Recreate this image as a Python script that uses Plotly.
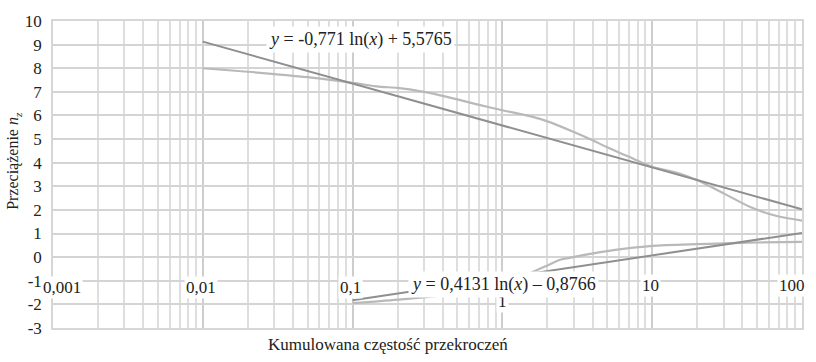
import numpy as np
import plotly.graph_objects as go

# Measured load-factor exceedance curve (upper branch)
upper_x = [0.01, 0.02, 0.05, 0.1, 0.15, 0.2, 0.3, 0.42, 0.7, 1.0, 1.5, 2.0,
           3.0, 4.0, 5.0, 7, 10, 15, 20, 30, 46, 70, 100]
upper_y = [8.0, 7.85, 7.62, 7.38, 7.22, 7.17, 7.0, 6.8, 6.45, 6.22, 5.98, 5.75,
           5.3, 4.95, 4.65, 4.25, 3.83, 3.55, 3.26, 2.7, 2.1, 1.72, 1.55]

# Measured load-factor exceedance curve (lower branch)
lower_x = [0.1, 0.2, 0.42, 1.0, 1.5, 2.0, 2.4, 2.8, 4.4, 7, 10, 20, 30, 50, 100]
lower_y = [-1.95, -1.8, -1.6, -1.1, -0.7, -0.35, -0.12, -0.03, 0.2, 0.38, 0.48,
           0.55, 0.58, 0.62, 0.65]

# Logarithmic trend coefficients: y = a*ln(x) + b
upper_fit = (-0.771, 5.5765)
lower_fit = (0.4131, -0.8766)
upper_fit_range = (0.01, 100)
lower_fit_range = (0.1, 100)

x_tick_vals = [0.001, 0.01, 0.1, 1, 10, 100]
x_tick_text = ["0,001", "0,01", "0,1", "1", "10", "100"]
y_tick_vals = list(range(-3, 11))
y_tick_text = [str(v) for v in y_tick_vals]

upper_label = "<i>y</i> = -0,771 ln(<i>x</i>) + 5,5765"
lower_label = "<i>y</i> = 0,4131 ln(<i>x</i>) \u2013 0,8766"

FONT = "Liberation Serif, Times New Roman, serif"


def fit_line(coef, xr):
    xs = np.logspace(np.log10(xr[0]), np.log10(xr[1]), 60)
    return xs, coef[0] * np.log(xs) + coef[1]


fig = go.Figure()

ux, uy = fit_line(upper_fit, upper_fit_range)
lx, ly = fit_line(lower_fit, lower_fit_range)

data_style = dict(color="#b9b9b9", width=2.2)
fit_style = dict(color="#8f8f8f", width=2)

fig.add_trace(go.Scatter(x=upper_x, y=upper_y, mode="lines",
                         line=dict(shape="spline", smoothing=0.8, **data_style)))
fig.add_trace(go.Scatter(x=lower_x, y=lower_y, mode="lines",
                         line=dict(shape="spline", smoothing=0.8, **data_style)))
fig.add_trace(go.Scatter(x=ux, y=uy, mode="lines", line=fit_style))
fig.add_trace(go.Scatter(x=lx, y=ly, mode="lines", line=fit_style))

annotations = []
# category labels along the horizontal axis, set on white boxes
label_y = {0.001: -1.30, 0.01: -1.30, 0.1: -1.28, 1: -1.86, 10: -1.22, 100: -1.22}
label_shift = {0.001: 9, 0.01: -2, 0.1: -2, 1: 0, 10: -2, 100: -10}
for v, t in zip(x_tick_vals, x_tick_text):
    annotations.append(dict(
        x=np.log10(v), y=label_y[v], xref="x", yref="y", text=t,
        showarrow=False, xanchor="center", yanchor="middle",
        xshift=label_shift[v], bgcolor="white", borderpad=1,
        font=dict(family=FONT, size=17, color="#222")))

annotations.append(dict(
    x=(266 - 53) / 750, y=(328 - 33) / 314, xref="paper", yref="paper",
    text=upper_label, showarrow=False, xanchor="left", yanchor="middle",
    bgcolor="white", borderpad=2, font=dict(family=FONT, size=18, color="#222")))
annotations.append(dict(
    x=(408 - 53) / 750, y=(328 - 284) / 314, xref="paper", yref="paper",
    text=lower_label, showarrow=False, xanchor="left", yanchor="middle",
    bgcolor="white", borderpad=2, font=dict(family=FONT, size=18, color="#222")))

annotations.append(dict(
    x=(14 - 53) / 750, y=(328 - 157) / 314, xref="paper", yref="paper",
    text="Przeciążenie <i>n</i><sub><i>z</i></sub>", textangle=-90,
    showarrow=False, xanchor="center", yanchor="middle",
    font=dict(family=FONT, size=16, color="#222")))
annotations.append(dict(
    x=(388 - 53) / 750, y=(328 - 345) / 314, xref="paper", yref="paper",
    text="Kumulowana częstość przekroczeń", showarrow=False,
    xanchor="center", yanchor="middle",
    font=dict(family=FONT, size=17, color="#222")))

fig.update_layout(
    width=816, height=362,
    margin=dict(l=53, r=13, t=14, b=34),
    paper_bgcolor="white", plot_bgcolor="white",
    showlegend=False,
    annotations=annotations,
    xaxis=dict(type="log", range=[-3, 2], dtick=1, showticklabels=False,
               showgrid=True, gridcolor="#cdcdcd", gridwidth=1.6,
               minor=dict(dtick="D1", showgrid=True, gridcolor="#dedede",
                          gridwidth=1.6, ticks=""),
               ticks="", showline=True, linecolor="#d6d6d6", linewidth=1.5,
               mirror=True, zeroline=False),
    yaxis=dict(range=[-3, 10], tickvals=y_tick_vals, ticktext=y_tick_text,
               showgrid=True, gridcolor="#d4d4d4", gridwidth=1.8,
               ticks="", ticklabelstandoff=6,
               tickfont=dict(family=FONT, size=17, color="#222"),
               showline=True, linecolor="#d6d6d6", linewidth=1.5,
               mirror=True, zeroline=False),
)

fig.write_html("out.html")
